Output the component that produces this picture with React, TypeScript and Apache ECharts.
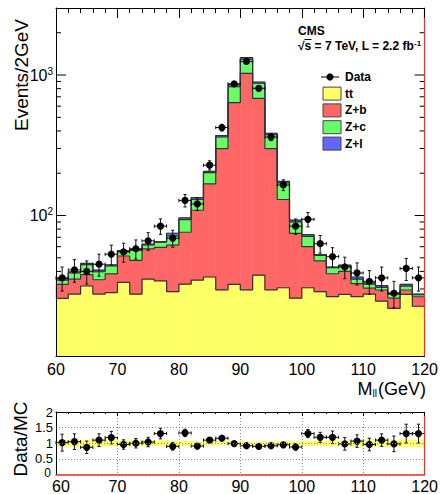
import React, { useEffect, useRef } from 'react';
import * as echarts from 'echarts';

// ---------- data ----------
const binCenters = [61, 63, 65, 67, 69, 71, 73, 75, 77, 79, 81, 83, 85, 87, 89, 91, 93, 95, 97, 99, 101, 103, 105, 107, 109, 111, 113, 115, 117, 119];
const ttValues = [25.7, 27.6, 31.5, 27.6, 28.3, 33.4, 27.6, 35.3, 34.3, 28.7, 32.5, 34.7, 36.5, 29.6, 32.4, 29.6, 37.6, 29.6, 30.6, 25.8, 30.6, 28.7, 26.5, 27.5, 26.5, 27.6, 24.6, 21.8, 27.5, 22.6];
const zbValues = [6.6, 7.7, 6.4, 7.3, 10.1, 18.1, 20.4, 22.6, 25.1, 32.8, 43.5, 74.3, 131.5, 269.4, 603.6, 998.4, 644.4, 269.4, 99.4, 48.7, 29.4, 18.8, 12, 12.5, 6.2, 2.8, 4.9, 4, 2, 3.8];
const zcValues = [2.4, 3.8, 6.8, 4.9, 5.3, 4.1, 8.5, 3.8, 5.1, 10, 17.6, 21, 34, 63, 192, 267, 192, 78, 41, 15.5, 11, 4.5, 4, 3.5, 2.5, 2.1, 1.3, 1.8, 1.9, 0.9];
const zlValues = [0.9, 0.7, 0.9, 1.1, 0.8, 0.6, 0.7, 1, 0.7, 3.3, 2.6, 4, 4, 9, 30, 35, 15, 8, 4, 2.8, 2, 0.8, 0.5, 0.8, 1.3, 0.7, 0.9, 0.4, 1, 0.3];
const dataValues = [36, 41, 40, 45, 53, 55, 58, 66, 84, 69, 128, 121, 228, 423, 864, 1250, 804, 362, 165, 84, 94, 63, 51, 43, 39, 34, 36, 28, 42, 36];
const dataErrors = [7, 7.5, 7.5, 8, 8.5, 8.5, 9, 9.5, 10.5, 9.5, 13, 12.5, 17, 23, 32, 39, 31, 21, 14.5, 10.5, 11, 9, 8, 7.5, 7, 6.5, 7, 6, 7.5, 7];
const ratioValues = [1.02, 1.05, 0.87, 1.1, 1.18, 0.96, 1.0, 1.04, 1.31, 0.9, 1.33, 0.91, 1.1, 1.16, 0.99, 0.92, 0.9, 0.92, 0.95, 0.88, 1.31, 1.19, 1.19, 0.98, 1.07, 0.96, 1.1, 0.98, 1.31, 1.31];
const ratioErrors = [0.27, 0.25, 0.2, 0.2, 0.2, 0.15, 0.15, 0.15, 0.17, 0.12, 0.12, 0.08, 0.06, 0.05, 0.03, 0.03, 0.03, 0.05, 0.07, 0.1, 0.13, 0.16, 0.2, 0.2, 0.2, 0.2, 0.2, 0.25, 0.3, 0.3];
const bandLow = [0.9, 0.9, 0.9, 0.91, 0.91, 0.92, 0.92, 0.92, 0.92, 0.93, 0.93, 0.94, 0.94, 0.95, 0.95, 0.95, 0.95, 0.95, 0.94, 0.94, 0.93, 0.93, 0.92, 0.92, 0.91, 0.91, 0.9, 0.9, 0.89, 0.89];
const bandHigh = [1.1, 1.1, 1.1, 1.09, 1.09, 1.08, 1.08, 1.08, 1.08, 1.07, 1.07, 1.06, 1.06, 1.05, 1.05, 1.05, 1.05, 1.05, 1.06, 1.06, 1.07, 1.07, 1.08, 1.08, 1.09, 1.09, 1.1, 1.1, 1.11, 1.11];

const xTickLabels = [60, 70, 80, 90, 100, 110, 120];
const yMajorTicks = [100, 1000];
const yMinorTicks = [20, 30, 40, 50, 60, 70, 80, 90, 200, 300, 400, 500, 600, 700, 800, 900, 2000];
const ratioTickLabels = ['0', '0.5', '1', '1.5', '2'];
const legendNames = ['Data', 'tt', 'Z+b', 'Z+c', 'Z+l'];

const X_MIN = 60;
const X_MAX = 120;
const Y_MIN = 10;
const Y_MAX = 3000;
const HALF = 1;

const FONT = "'Liberation Sans', Arial, Helvetica, sans-serif";
const COLORS = ['#ffff66', '#ff6666', '#66ff66', '#6666ff'];
const OUTLINE = '#333333';
const RED_LINE = '#e8322e';

export default function App() {
  const ref = useRef<HTMLDivElement>(null);

  useEffect(() => {
    if (!ref.current) return;
    const chart = echarts.init(ref.current, null, { renderer: 'svg' });

    const layers = [ttValues, zbValues, zcValues, zlValues];
    const lows: number[][] = [];
    const highs: number[][] = [];
    let base = binCenters.map(() => Y_MIN);
    let cum = binCenters.map(() => 0);
    layers.forEach((vals) => {
      const lo = base.slice();
      cum = cum.map((c, i) => c + vals[i]);
      lows.push(lo);
      highs.push(cum.slice());
      base = cum.slice();
    });

    const rectSeries = layers.map((_, k) => ({
      type: 'custom',
      xAxisIndex: 0,
      yAxisIndex: 0,
      z: 2,
      silent: true,
      encode: { x: 0, y: [1, 2] },
      data: binCenters.map((c, i) => [c, lows[k][i], highs[k][i]]),
      renderItem: (params: any, api: any) => {
        const x = api.value(0);
        const p0 = api.coord([x - HALF, api.value(1)]);
        const p1 = api.coord([x + HALF, api.value(2)]);
        return {
          type: 'rect',
          shape: { x: p0[0], y: p1[1], width: p1[0] - p0[0], height: p0[1] - p1[1] },
          style: { fill: COLORS[k], stroke: COLORS[k], lineWidth: 0.6 },
        };
      },
    }));

    const outlineSeries = layers.map((_, k) => {
      const pts = binCenters.map((c, i) => [c - HALF, highs[k][i]]);
      pts.push([binCenters[binCenters.length - 1] + HALF, highs[k][binCenters.length - 1]]);
      return {
        type: 'line',
        xAxisIndex: 0,
        yAxisIndex: 0,
        step: 'end',
        symbol: 'none',
        silent: true,
        z: 3,
        lineStyle: { color: OUTLINE, width: 1.2 },
        data: pts,
      };
    });

    const errRender = (yFloor: number) => (params: any, api: any) => {
      const x = api.value(0);
      const y = api.value(1);
      const e = api.value(2);
      const c = api.coord([x, y]);
      const l = api.coord([x - HALF, y]);
      const r = api.coord([x + HALF, y]);
      const t = api.coord([x, y + e]);
      const b = api.coord([x, Math.max(y - e, yFloor)]);
      const st = { stroke: '#111', lineWidth: 1 };
      const cap = 1.6;
      return {
        type: 'group',
        children: [
          { type: 'line', shape: { x1: l[0], y1: c[1], x2: r[0], y2: c[1] }, style: st },
          { type: 'line', shape: { x1: c[0], y1: t[1], x2: c[0], y2: b[1] }, style: st },
          { type: 'line', shape: { x1: c[0] - cap, y1: t[1], x2: c[0] + cap, y2: t[1] }, style: st },
          { type: 'line', shape: { x1: c[0] - cap, y1: b[1], x2: c[0] + cap, y2: b[1] }, style: st },
          { type: 'line', shape: { x1: l[0], y1: c[1] - cap, x2: l[0], y2: c[1] + cap }, style: st },
          { type: 'line', shape: { x1: r[0], y1: c[1] - cap, x2: r[0], y2: c[1] + cap }, style: st },
          { type: 'circle', shape: { cx: c[0], cy: c[1], r: 3.6 }, style: { fill: '#000' } },
        ],
      };
    };

    const tickSeries = {
      type: 'custom',
      xAxisIndex: 0,
      yAxisIndex: 0,
      z: 1,
      silent: true,
      data: yMinorTicks.map((v) => [X_MIN, v, 5]).concat(yMajorTicks.map((v) => [X_MIN, v, 10])),
      renderItem: (params: any, api: any) => {
        const v = api.value(1);
        const len = api.value(2);
        const a = api.coord([X_MIN, v]);
        const b = api.coord([X_MAX, v]);
        const st = { stroke: '#000', lineWidth: 1 };
        return {
          type: 'group',
          children: [
            { type: 'line', shape: { x1: a[0], y1: a[1], x2: a[0] + len, y2: a[1] }, style: st },
            { type: 'line', shape: { x1: b[0] - len, y1: b[1], x2: b[0], y2: b[1] }, style: st },
          ],
        };
      },
    };

    const bandSeries = {
      type: 'custom',
      xAxisIndex: 2,
      yAxisIndex: 2,
      z: 2,
      silent: true,
      encode: { x: 0, y: [1, 2] },
      data: binCenters.map((c, i) => [c, bandLow[i], bandHigh[i]]),
      renderItem: (params: any, api: any) => {
        const x = api.value(0);
        const p0 = api.coord([x - HALF, api.value(1)]);
        const p1 = api.coord([x + HALF, api.value(2)]);
        return {
          type: 'rect',
          shape: { x: p0[0], y: p1[1], width: p1[0] - p0[0], height: p0[1] - p1[1] },
          style: { fill: '#ffff55', stroke: '#ffff55', lineWidth: 0.5, opacity: 0.9 },
        };
      },
    };

    const labelStyle = { color: '#000', fontSize: 16, fontFamily: FONT };
    const axisBlack = { lineStyle: { color: '#000', width: 1 } };
    const dotted = { show: true, lineStyle: { color: '#8a8a8a', width: 1, type: [1, 2] } };

    const legendRows = [77, 93.6, 110.4, 127.2, 143.6];

    const option: any = {
      animation: false,
      backgroundColor: '#ffffff',
      grid: [
        { left: 56, top: 8, width: 373, height: 348, containLabel: false },
        { left: 56, top: 412, width: 373, height: 66, containLabel: false },
      ],
      xAxis: [
        {
          gridIndex: 0, type: 'value', min: X_MIN, max: X_MAX, interval: 10, position: 'bottom', z: 10,
          axisLine: { show: true, onZero: false, ...axisBlack },
          axisTick: { show: false },
          axisLabel: { ...labelStyle, margin: 5, formatter: (v: number) => (xTickLabels.includes(v) ? String(v) : '') },
          splitLine: { show: false },
        },
        {
          gridIndex: 0, type: 'value', min: X_MIN, max: X_MAX, interval: 10, position: 'top', z: 10,
          axisLine: { show: true, onZero: false, ...axisBlack },
          axisTick: { show: true, inside: true, length: 10, lineStyle: { color: '#000' } },
          minorTick: { show: true, splitNumber: 5, length: 5, lineStyle: { color: '#000' } },
          axisLabel: { show: false },
          splitLine: { show: false },
        },
        {
          gridIndex: 1, type: 'value', min: X_MIN, max: X_MAX, interval: 10, position: 'bottom', z: 10,
          axisLine: { show: true, onZero: false, lineStyle: { color: RED_LINE, width: 1.5 } },
          axisTick: { show: false },
          axisLabel: {
            ...labelStyle,
            lineHeight: 15,
            margin: 4,
            formatter: (v: number) => (v === X_MIN ? `{first|${v}}` : String(v)),
            rich: { first: { fontSize: 16, lineHeight: 15, fontFamily: FONT, color: '#000', padding: [0, 0, 0, 10] } },
          },
          splitLine: dotted,
        },
        {
          gridIndex: 1, type: 'value', min: X_MIN, max: X_MAX, interval: 10, position: 'top', z: 10,
          axisLine: { show: true, onZero: false, ...axisBlack },
          axisTick: { show: true, inside: true, length: 4, lineStyle: { color: '#000' } },
          minorTick: { show: true, splitNumber: 5, length: 2, lineStyle: { color: '#000' } },
          axisLabel: { show: false },
          splitLine: { show: false },
        },
      ],
      yAxis: [
        {
          gridIndex: 0, type: 'log', logBase: 10, min: Y_MIN, max: Y_MAX, position: 'left', z: 10,
          axisLine: { show: true, onZero: false, ...axisBlack },
          axisTick: { show: false },
          splitLine: { show: false },
          axisLabel: {
            ...labelStyle,
            margin: 3,
            formatter: (v: number) => {
              const l = Math.log10(v);
              const r = Math.round(l);
              if (Math.abs(l - r) < 1e-6 && yMajorTicks.includes(Math.pow(10, r))) return `10{sup|${r}}`;
              return '';
            },
            rich: { sup: { fontSize: 10, fontFamily: FONT, color: '#000', verticalAlign: 'top', padding: [0, 0, 8, 0] } },
          },
        },
        {
          gridIndex: 0, type: 'log', logBase: 10, min: Y_MIN, max: Y_MAX, position: 'right', z: 10,
          axisLine: { show: true, onZero: false, lineStyle: { color: RED_LINE, width: 1.2 } },
          axisTick: { show: false },
          axisLabel: { show: false },
          splitLine: { show: false },
        },
        {
          gridIndex: 1, type: 'value', min: 0, max: 2, interval: 0.5, position: 'left', z: 10,
          axisLine: { show: true, onZero: false, ...axisBlack },
          axisTick: { show: false },
          axisLabel: {
            color: '#000', fontSize: 13, lineHeight: 12, fontFamily: FONT, margin: 3,
            showMinLabel: true, showMaxLabel: true,
            formatter: (v: number) => (v === 0 ? '' : String(v)),
          },
          splitLine: dotted,
        },
        {
          gridIndex: 1, type: 'value', min: 0, max: 2, interval: 0.5, position: 'right', z: 10,
          axisLine: { show: true, onZero: false, lineStyle: { color: RED_LINE, width: 1.2 } },
          axisTick: { show: false },
          axisLabel: { show: false },
          splitLine: { show: false },
        },
      ],
      series: [
        tickSeries,
        ...rectSeries,
        ...outlineSeries,
        {
          type: 'custom',
          name: 'Data',
          xAxisIndex: 0,
          yAxisIndex: 0,
          z: 5,
          silent: true,
          data: binCenters.map((c, i) => [c, dataValues[i], dataErrors[i]]),
          renderItem: errRender(Y_MIN),
        },
        bandSeries,
        {
          type: 'custom',
          name: 'Data/MC',
          xAxisIndex: 2,
          yAxisIndex: 2,
          z: 5,
          silent: true,
          data: binCenters.map((c, i) => [c, ratioValues[i], ratioErrors[i]]),
          renderItem: errRender(0),
        },
      ],
      graphic: [
        {
          type: 'text', x: 21, y: 75, rotation: Math.PI / 2, z: 100,
          style: { text: 'Events/2GeV', font: `19px ${FONT}`, fill: '#000', align: 'center', verticalAlign: 'middle', textAlign: 'center', textVerticalAlign: 'middle' },
        },
        {
          type: 'text', x: 20, y: 439, rotation: Math.PI / 2, z: 100,
          style: { text: 'Data/MC', font: `19px ${FONT}`, fill: '#000', align: 'center', verticalAlign: 'middle', textAlign: 'center', textVerticalAlign: 'middle' },
        },
        {
          type: 'text', x: 51, y: 473, z: 100,
          style: { text: ratioTickLabels[0], font: `12px ${FONT}`, lineHeight: 11, fill: '#000', align: 'right', verticalAlign: 'middle', textAlign: 'right', textVerticalAlign: 'middle' },
        },
        {
          type: 'text', x: 426, y: 389, z: 100,
          style: {
            text: 'M{sub|ll}(GeV)', font: `18px ${FONT}`, fill: '#000', align: 'right', verticalAlign: 'middle', textAlign: 'right', textVerticalAlign: 'middle',
            rich: { sub: { fontSize: 10, fontFamily: FONT, fill: '#000', verticalAlign: 'bottom', padding: [6, 1, 0, 0] } },
          },
        },
        {
          type: 'text', x: 298, y: 31, z: 100,
          style: { text: 'CMS', font: `bold 12px ${FONT}`, fill: '#000', align: 'left', verticalAlign: 'middle', textAlign: 'left', textVerticalAlign: 'middle' },
        },
        {
          type: 'text', x: 298, y: 46, z: 100,
          style: {
            text: '√s = 7 TeV, L = 2.2 fb{sup|-1}', font: `bold 12px ${FONT}`, fill: '#000', align: 'left', verticalAlign: 'middle', textAlign: 'left', textVerticalAlign: 'middle',
            rich: { sup: { fontSize: 8, fontWeight: 'bold', fontFamily: FONT, fill: '#000', verticalAlign: 'top', padding: [0, 0, 6, 0] } },
          },
        },
        { type: 'line', z: 100, shape: { x1: 304.5, y1: 39.5, x2: 311.5, y2: 39.5 }, style: { stroke: '#000', lineWidth: 1 } },
        { type: 'line', z: 100, shape: { x1: 321, y1: legendRows[0], x2: 339, y2: legendRows[0] }, style: { stroke: '#000', lineWidth: 1 } },
        { type: 'circle', z: 101, shape: { cx: 330, cy: legendRows[0], r: 3.6 }, style: { fill: '#000' } },
        ...COLORS.map((col, k) => ({
          type: 'rect', z: 100,
          shape: { x: 323, y: legendRows[k + 1] - 6.5, width: 18, height: 13 },
          style: { fill: col, stroke: '#444', lineWidth: 1 },
        })),
        ...legendNames.map((n, k) => ({
          type: 'text', x: 345, y: legendRows[k], z: 100,
          style: { text: n, font: `bold 12px ${FONT}`, fill: '#000', align: 'left', verticalAlign: 'middle', textAlign: 'left', textVerticalAlign: 'middle' },
        })),
      ],
    };

    chart.setOption(option);
    return () => chart.dispose();
  }, []);

  return (
    <div
      ref={ref}
      style={{ position: 'fixed', left: 0, top: 0, width: 441, height: 494, background: '#fff' }}
    />
  );
}
